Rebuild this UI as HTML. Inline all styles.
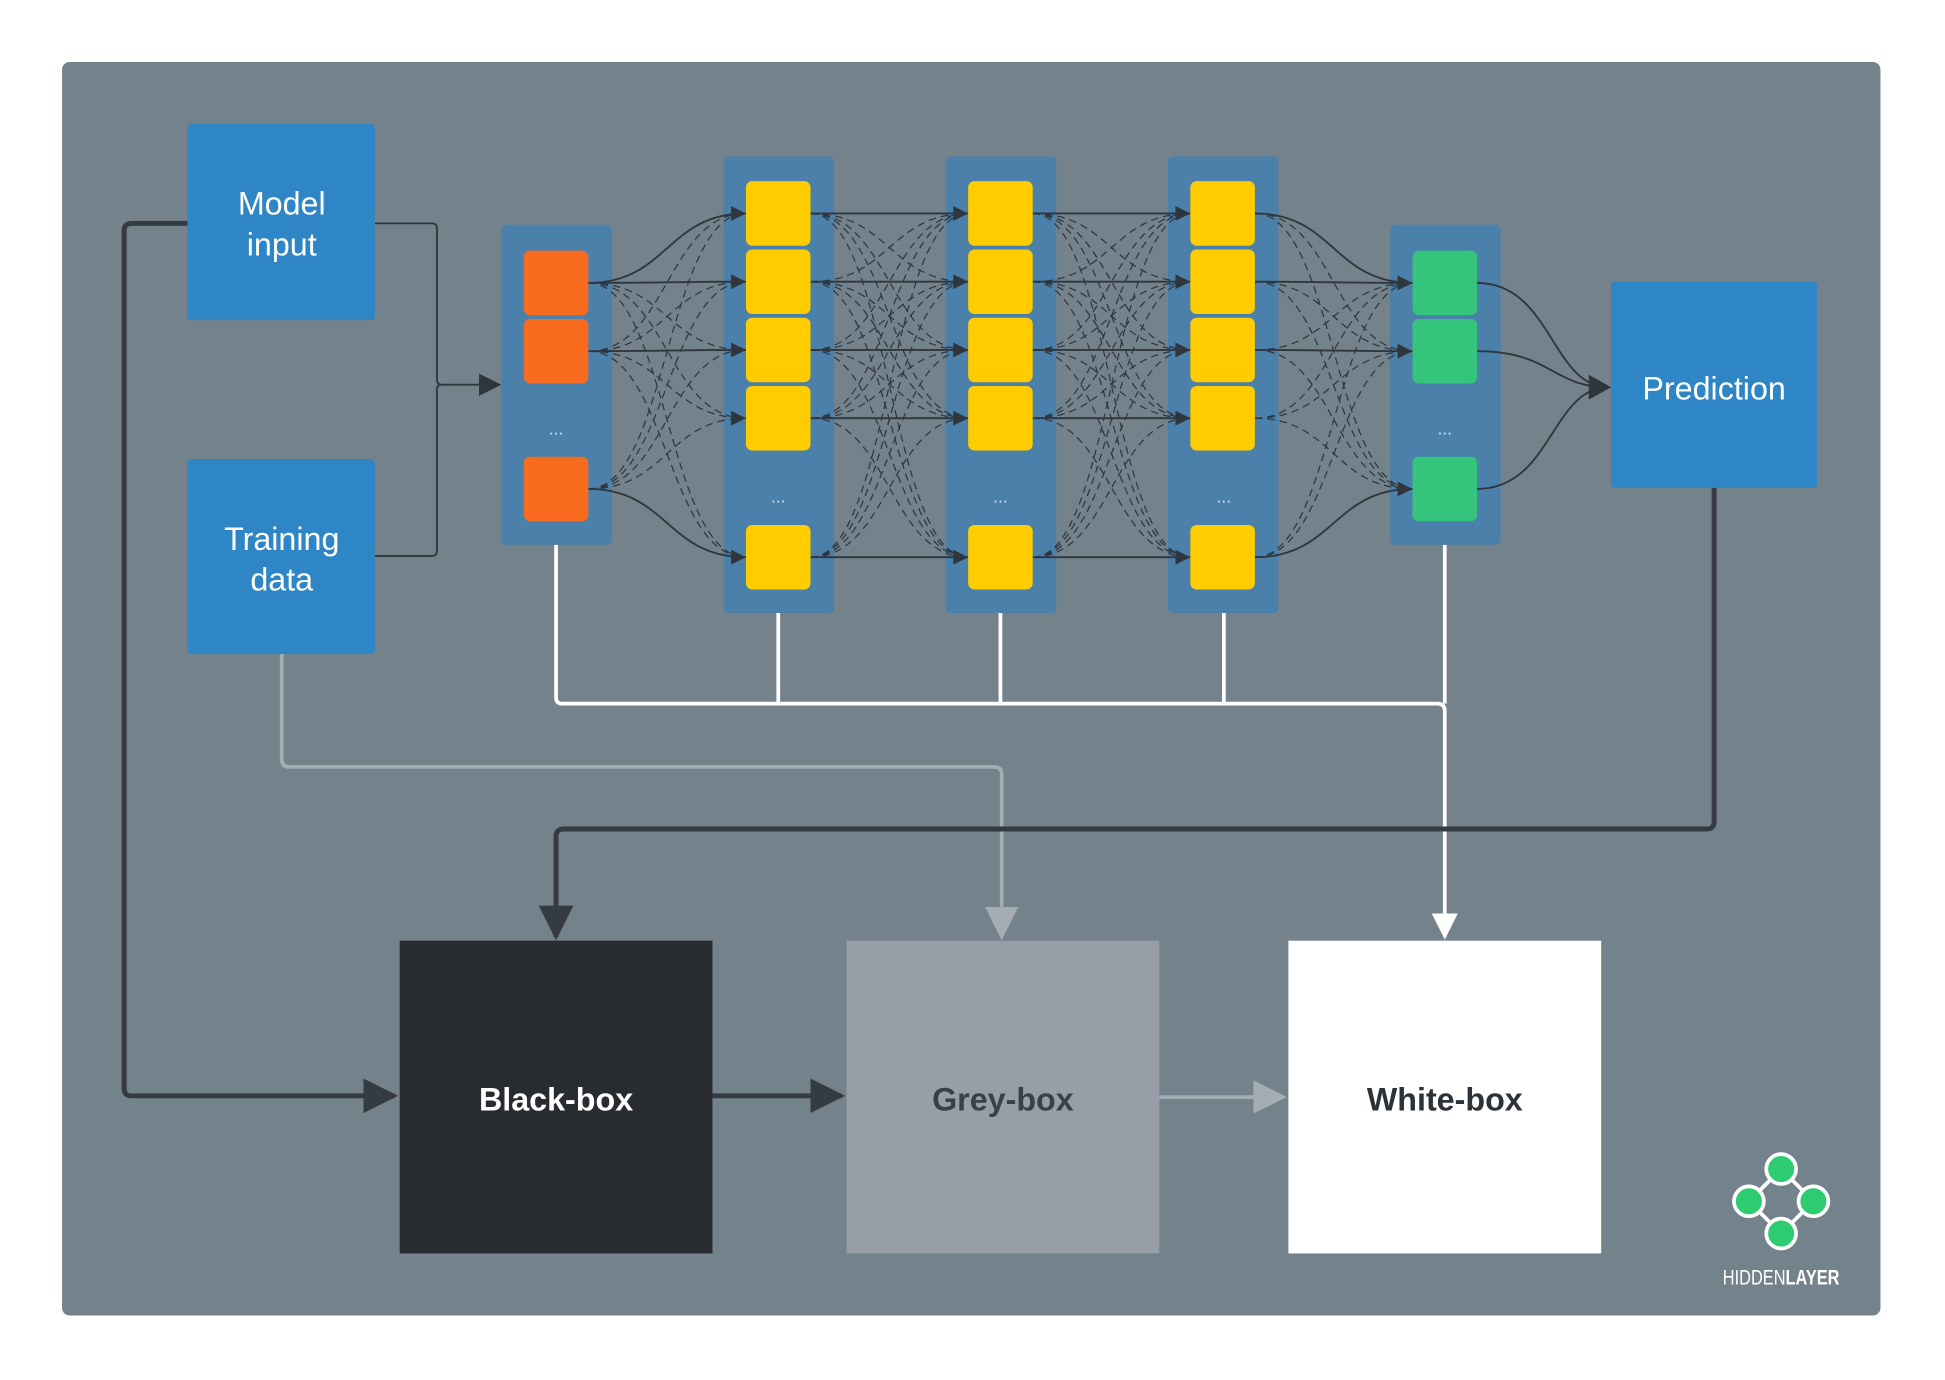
<!DOCTYPE html>
<html><head><meta charset="utf-8"><style>
html,body{margin:0;padding:0;background:#fff;width:1945px;height:1380px;overflow:hidden}
svg{display:block}
text{font-family:"Liberation Sans",sans-serif}
</style></head><body>
<svg id="s" width="1945" height="1380" viewBox="0 0 1567 1112" preserveAspectRatio="none" xmlns="http://www.w3.org/2000/svg">
<defs>
<marker id="adS" viewBox="0 0 10 10" refX="9" refY="5" markerWidth="18" markerHeight="18" markerUnits="userSpaceOnUse" orient="auto"><path d="M0,0L10,5L0,10z" fill="#30363d"/></marker>
<marker id="adB" viewBox="0 0 10 10" refX="9" refY="5" markerWidth="7" markerHeight="7" orient="auto"><path d="M0,0L10,5L0,10z" fill="#353b42"/></marker>
<marker id="ag" viewBox="0 0 10 10" refX="9" refY="5" markerWidth="9" markerHeight="9" orient="auto"><path d="M0,0L10,5L0,10z" fill="#a4adb4"/></marker>
<marker id="aw" viewBox="0 0 10 10" refX="9" refY="5" markerWidth="7" markerHeight="7" orient="auto"><path d="M0,0L10,5L0,10z" fill="#fff"/></marker>
</defs>
<rect x="50" y="50" width="1465" height="1010" rx="6" fill="#74828b"/>
<g stroke="#fff" stroke-width="3" fill="none">
<path d="M448,439V562q0,5 5,5H1158q6,0 6,6V755" marker-end="url(#aw)"/>
<path d="M627,494V567M806,494V567M986,494V567M1164,439V567"/>
</g>
<path d="M227,527V612q0,6 6,6H801q6,0 6,6V755" stroke="#a4adb4" stroke-width="3" fill="none" marker-end="url(#ag)"/>
<path d="M1381,393V662q0,6 -6,6H454q-6,0 -6,6V755" stroke="#353b42" stroke-width="4" fill="none" marker-end="url(#adB)"/>
<path d="M151,180H106q-6,0 -6,6V877q0,6 6,6H318" stroke="#353b42" stroke-width="4" fill="none" marker-end="url(#adB)"/>
<path d="M574,883H678" stroke="#353b42" stroke-width="4" fill="none" marker-end="url(#adB)"/>
<path d="M934,884H1034" stroke="#a4adb4" stroke-width="3" fill="none" marker-end="url(#ag)"/>
<g stroke="#30363d" stroke-width="1.5" fill="none">
<path d="M302,180H348q4,0 4,4V306q0,4 4,4H402" marker-end="url(#adS)"/>
<path d="M302,448H348q4,0 4,-4V314q0,-4 4,-4"/>
</g>
<g fill="#4a80aa">
<rect x="404" y="181" width="89" height="258" rx="4"/>
<rect x="583" y="126" width="89" height="368" rx="4"/>
<rect x="762" y="126" width="89" height="368" rx="4"/>
<rect x="941" y="126" width="89" height="368" rx="4"/>
<rect x="1120" y="181" width="89" height="258" rx="4"/>
</g>
<g id="edges"></g>
<g id="nodes"></g>
<g fill="#d8e2ea" font-size="14" text-anchor="middle">
<text x="448" y="350">...</text><text x="627" y="405">...</text><text x="806" y="405">...</text><text x="986" y="405">...</text><text x="1164" y="350">...</text>
</g>
<g fill="#2e86c6">
<rect x="151" y="100" width="151" height="158" rx="3"/>
<rect x="151" y="370" width="151" height="157" rx="3"/>
<rect x="1298" y="227" width="166" height="166" rx="3"/>
</g>
<g fill="#fff" font-size="26" text-anchor="middle">
<text x="227" y="173">Model</text><text x="227" y="206">input</text>
<text x="227" y="443">Training</text><text x="227" y="476">data</text>
<text x="1381" y="322">Prediction</text>
</g>
<rect x="322" y="758" width="252" height="252" fill="#282b30"/>
<rect x="682" y="758" width="252" height="252" fill="#979ea8"/>
<rect x="1038" y="758" width="252" height="252" fill="#fff"/>
<g font-size="26" font-weight="bold" text-anchor="middle">
<text x="448" y="895" fill="#fff">Black-box</text>
<text x="808" y="895" fill="#3a4047">Grey-box</text>
<text x="1164" y="895" fill="#2d3238">White-box</text>
</g>
<g stroke="#fff" stroke-width="3">
<path d="M1435,942L1409,968L1435,994L1461,968Z" fill="none"/>
<g fill="#2ecc71"><circle cx="1435" cy="942" r="12"/><circle cx="1409" cy="968" r="12"/><circle cx="1461" cy="968" r="12"/><circle cx="1435" cy="994" r="12"/></g>
</g>
<text x="1435" y="1035" font-size="17" fill="#fff" text-anchor="middle" textLength="94" lengthAdjust="spacingAndGlyphs">HIDDEN<tspan font-weight="bold">LAYER</tspan></text>
</svg>
<script>
var NS="http://www.w3.org/2000/svg";
function el(p,t,a){var e=document.createElementNS(NS,t);for(var k in a)e.setAttribute(k,a[k]);p.appendChild(e);return e;}
var E=document.getElementById("edges"),N=document.getElementById("nodes");
var layers=[
 {x:422,ys:[228,283,394],c:"#f96b1e"},
 {x:601,ys:[172,227,282,337,449],c:"#ffcc00"},
 {x:780,ys:[172,227,282,337,449],c:"#ffcc00"},
 {x:959,ys:[172,227,282,337,449],c:"#ffcc00"},
 {x:1138,ys:[228,283,394],c:"#35c47c"}];
for(var l=0;l<4;l++){
 var A=layers[l],B=layers[l+1],x1=A.x+52,x2=B.x;
 A.ys.forEach(function(y1,i){B.ys.forEach(function(y2,j){
  var mx=(x1+x2)/2,solid=(Math.abs(y1-y2)<3)||(l==0&&((i==0&&j==0)||(i==2&&j==4)))||(l==3&&((i==0&&j==0)||(j==2&&i==4)));
  el(E,"path",{d:"M"+x1+","+y1+"C"+mx+","+y1+" "+mx+","+y2+" "+x2+","+y2,stroke:"#30363d","stroke-width":solid?1.5:1,fill:"none","stroke-dasharray":solid?"":"6,4"});
 });});
 B.ys.forEach(function(y){el(E,"path",{d:"M"+(x2-12)+","+(y-6)+"L"+x2+","+y+"L"+(x2-12)+","+(y+6)+"z",fill:"#30363d"});});
}
[228,283,394].forEach(function(y){el(E,"path",{d:"M1190,"+y+"C1250,"+y+" 1250,312 1296,312",stroke:"#30363d","stroke-width":1.5,fill:"none"});});
el(E,"path",{d:"M1280,302L1298,312L1280,322z",fill:"#30363d"});
layers.forEach(function(L){L.ys.forEach(function(y){el(N,"rect",{x:L.x,y:y-26,width:52,height:52,rx:5,fill:L.c});});});
</script>
</body></html>
